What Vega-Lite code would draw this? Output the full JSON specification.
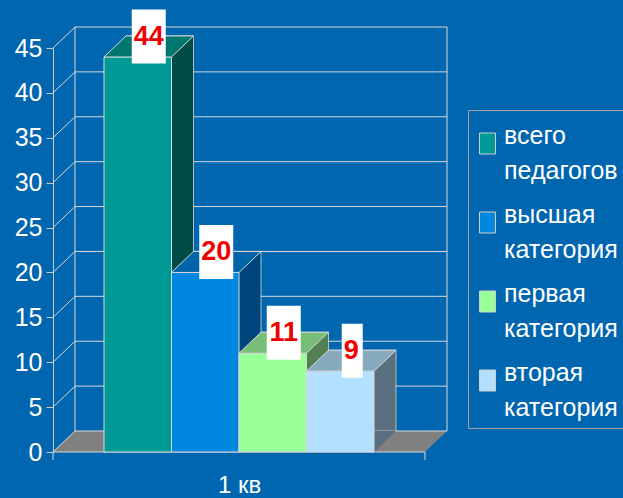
{
  "$schema": "https://vega.github.io/schema/vega-lite/v6.json",
  "width": 372,
  "height": 404,
  "autosize": {"type": "none"},
  "padding": {"left": 53, "top": 48, "right": 198, "bottom": 46},
  "background": "#0066B0",
  "config": {
    "view": {"stroke": null},
    "font": "Liberation Sans",
    "style": {"guide-label": {"lineHeight": 35}},
    "axis": {"title": null, "grid": false},
    "axisY": {"labelColor": "white", "labelFontSize": 25, "labelFont": "Liberation Sans", "domainColor": "#c8c8c8", "tickColor": "#c8c8c8", "tickSize": 7, "labelPadding": 4, "tickCount": 10},
    "axisX": {"labels": false, "domain": false, "ticks": false, "tickSize": 0, "titleColor": "white", "titleFontSize": 24, "titleFont": "Liberation Sans", "titleFontWeight": "normal", "titlePadding": 21}
  },
  "datasets": {
    "bars": [
      {"quarter": "1 кв", "category": "всего педагогов", "value": 44},
      {"quarter": "1 кв", "category": "высшая категория", "value": 20},
      {"quarter": "1 кв", "category": "первая категория", "value": 11},
      {"quarter": "1 кв", "category": "вторая категория", "value": 9}
    ],
    "ticks": [{"t": 0}, {"t": 5}, {"t": 10}, {"t": 15}, {"t": 20}, {"t": 25}, {"t": 30}, {"t": 35}, {"t": 40}, {"t": 45}]
  },
  "layer": [
    {
      "data": {"values": [{}]},
      "mark": {"type": "point", "shape": "M-0.5,0L0.5,0L0.55914,-0.05645L-0.44086,-0.05645Z", "size": 553536, "filled": true, "color": "#808080", "opacity": 1},
      "encoding": {
        "y": {"datum": 0, "type": "quantitative", "scale": {"domain": [0, 45], "nice": false}}
      }
    },
    {
      "data": {"name": "ticks"},
      "mark": {"type": "point", "shape": "M-0.5,0L-0.44086,-0.05645L0.55914,-0.05645", "size": 553536, "filled": false, "stroke": "#d8d8d8", "strokeWidth": 1, "opacity": 1},
      "encoding": {
        "y": {"field": "t", "type": "quantitative", "scale": {"domain": [0, 45], "nice": false}}
      }
    },
    {
      "data": {"values": [{}]},
      "mark": {"type": "point", "shape": "M-0.44086,-0.05645V-1.14247M0.55914,-0.05645V-1.14247M-0.5,0H0.5M-0.5,0V0.0215M0.5,0V0.0215", "size": 553536, "filled": false, "stroke": "#d8d8d8", "strokeWidth": 1, "opacity": 1},
      "encoding": {
        "y": {"datum": 0, "type": "quantitative", "scale": {"domain": [0, 45], "nice": false}}
      }
    },
    {
      "data": {"name": "bars"},
      "mark": {"type": "bar", "xOffset": 22, "x2Offset": 22, "yOffset": -21, "y2Offset": -21, "stroke": "#d8d8d8", "strokeWidth": 0.8},
      "encoding": {
        "x": {"field": "category", "type": "nominal", "scale": {"domain": ["всего педагогов", "высшая категория", "первая категория", "вторая категория"], "paddingInner": 0, "paddingOuter": 0.7556}, "axis": {"title": "1 кв"}},
        "y": {"field": "value", "type": "quantitative", "scale": {"domain": [0, 45], "nice": false}},
        "color": {"field": "category", "type": "nominal", "scale": {"domain": ["всего педагогов", "высшая категория", "первая категория", "вторая категория"], "range": ["#004D47", "#00467C", "#528052", "#5A7080"]}, "legend": null}
      }
    },
    {
      "data": {"name": "bars"},
      "mark": {"type": "point", "shape": "M0.5,0L0.5,-0.31111L0.82593,-0.31111Z", "size": 18225, "filled": true, "opacity": 1},
      "encoding": {
        "x": {"field": "category", "type": "nominal"},
        "y": {"datum": 0, "type": "quantitative", "scale": {"domain": [0, 45], "nice": false}},
        "color": {"field": "category", "type": "nominal", "scale": {"domain": ["всего педагогов", "высшая категория", "первая категория", "вторая категория"], "range": ["#004D47", "#00467C", "#528052", "#5A7080"]}, "legend": null}
      }
    },
    {
      "data": {"name": "bars"},
      "mark": {"type": "bar", "stroke": "#d8d8d8", "strokeWidth": 1},
      "encoding": {
        "x": {"field": "category", "type": "nominal", "axis": {"title": "1 кв"}},
        "y": {"field": "value", "type": "quantitative", "scale": {"domain": [0, 45], "nice": false}},
        "color": {
          "field": "category", "type": "nominal",
          "scale": {"domain": ["всего педагогов", "высшая категория", "первая категория", "вторая категория"], "range": ["#009A96", "#0088E0", "#99FF99", "#B3E0FF"]},
          "legend": {
            "title": " ", "titleFontSize": 4, "titlePadding": 10,
            "orient": "none", "legendX": 415, "legendY": 62, "direction": "vertical",
            "strokeColor": "#a0a0a0", "padding": 7,
            "symbolType": "M-0.76,-1H0.76V1H-0.76Z", "symbolSize": 441, "symbolStrokeColor": "#d0d0d0", "symbolStrokeWidth": 1, "symbolOpacity": 1,
            "labelColor": "white", "labelFontSize": 25, "labelFont": "Liberation Sans", "labelLimit": 0,
            "labelExpr": "split(datum.label, ' ')", "labelBaseline": "alphabetic", "labelOffset": 4, "rowPadding": 18
          }
        }
      }
    },
    {
      "data": {"name": "bars"},
      "mark": {"type": "point", "shape": "M-0.5,0L0.5,0L0.82593,-0.31111L-0.17407,-0.31111Z", "size": 18225, "filled": true, "opacity": 1, "stroke": "#d8d8d8", "strokeWidth": 1},
      "encoding": {
        "x": {"field": "category", "type": "nominal"},
        "y": {"field": "value", "type": "quantitative", "scale": {"domain": [0, 45], "nice": false}},
        "color": {"field": "category", "type": "nominal", "scale": {"domain": ["всего педагогов", "высшая категория", "первая категория", "вторая категория"], "range": ["#00766F", "#0064AA", "#77BF77", "#88AABF"]}, "legend": null}
      }
    },
    {
      "data": {"name": "bars"},
      "mark": {"type": "point", "size": 18225, "filled": true, "opacity": 1, "color": "white"},
      "encoding": {
        "x": {"field": "category", "type": "nominal"},
        "y": {"field": "value", "type": "quantitative", "scale": {"domain": [0, 45], "nice": false}},
        "shape": {"condition": {"test": "datum.value >= 10", "value": "M-0.0889,0.0963H0.4148V-0.7037H-0.0889Z"}, "value": "M0.0222,0.0963H0.3333V-0.7037H0.0222Z"}
      }
    },
    {
      "data": {"name": "bars"},
      "mark": {"type": "text", "dx": 11, "dy": -20, "baseline": "middle", "align": "center", "font": "'Liberation Sans Narrow', 'Arial Narrow', 'Liberation Sans', sans-serif", "fontWeight": "bold", "fontSize": 27, "color": "#EE0000"},
      "encoding": {
        "x": {"field": "category", "type": "nominal"},
        "y": {"field": "value", "type": "quantitative", "scale": {"domain": [0, 45], "nice": false}},
        "text": {"field": "value", "type": "quantitative"}
      }
    }
  ],
  "resolve": {"scale": {"color": "independent"}}
}
